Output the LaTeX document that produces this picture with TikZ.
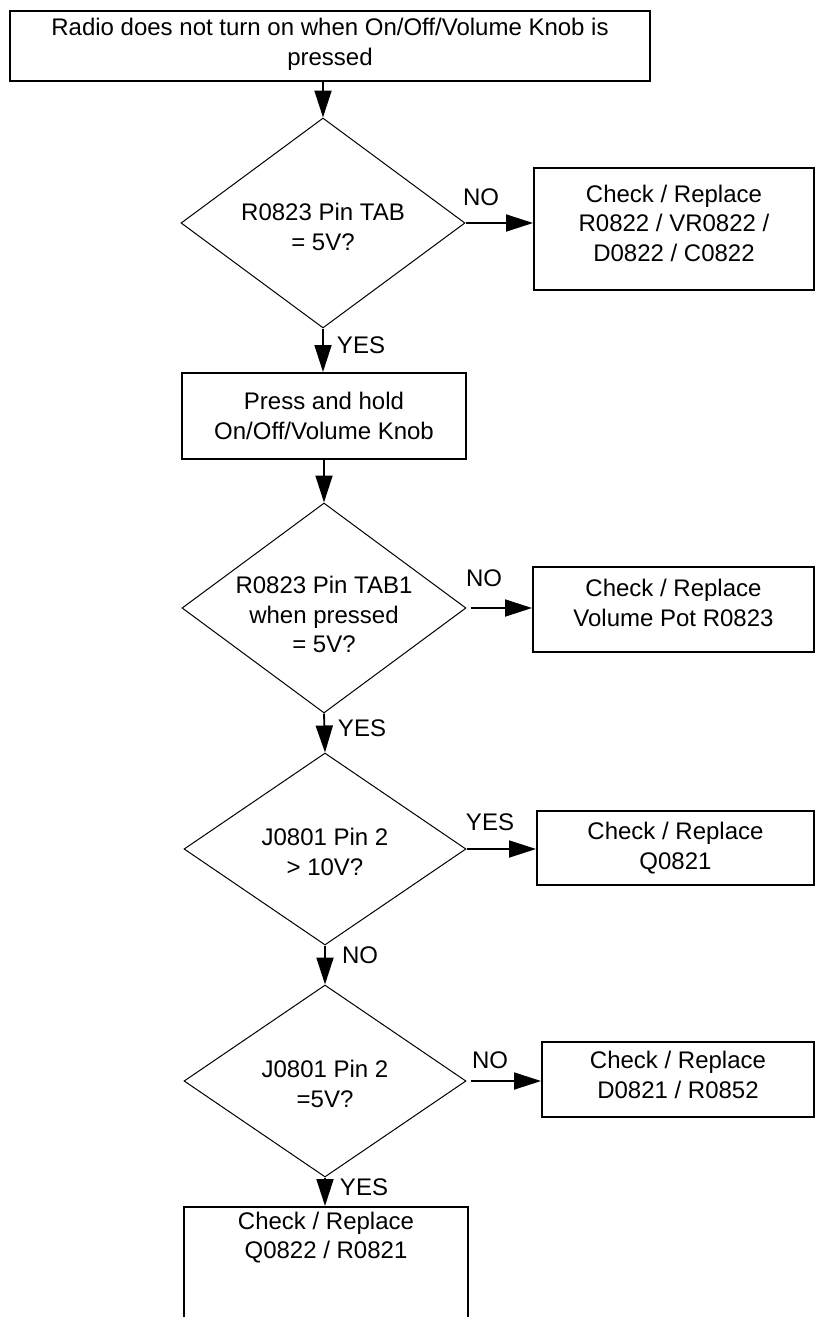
\documentclass[tikz,border=0pt]{standalone}
\usepackage{fontspec}
\setmainfont{Liberation Sans}
\usetikzlibrary{shapes.geometric,arrows.meta}
\newcommand{\topgap}[1]{\rule{0pt}{#1}}
\newcommand{\botgap}[1]{\rule[-#1]{0pt}{#1}}
\begin{document}
\begin{tikzpicture}[x=1pt,y=-1pt,
  txt/.style={font=\fontsize{24}{29.5}\selectfont, align=center},
  box/.style={txt, draw, line width=2pt, rectangle, inner sep=0pt},
  dia/.style={txt, draw, line width=1pt, diamond, inner sep=-40pt},
  arr/.style={line width=1.8pt, -{Triangle[length=27pt,width=17pt]}},
  lbl/.style={font=\fontsize{24}{29.5}\selectfont, inner sep=0pt}]
\useasboundingbox (0,0) rectangle (815,1317);

\node[box, minimum width=640pt, minimum height=70pt] (top) at (330,46)
  {Radio does not turn on when On/Off/Volume Knob is\\pressed\botgap{8pt}};

\node[dia, minimum width=284pt, minimum height=210pt] (d1) at (323,223)
  {\topgap{25pt}R0823 Pin TAB\\= 5V?};
\node[box, minimum width=280pt, minimum height=122pt] (b1) at (674,229)
  {Check / Replace\\R0822 / VR0822 /\\D0822 / C0822\botgap{12pt}};

\node[box, minimum width=284pt, minimum height=86pt] (press) at (324,416)
  {Press and hold\\On/Off/Volume Knob};

\node[dia, minimum width=284pt, minimum height=210pt] (d2) at (324,608)
  {\topgap{31pt}R0823 Pin TAB1\\when pressed\\= 5V?};
\node[box, minimum width=281pt, minimum height=85pt] (b2) at (673.5,609.5)
  {Check / Replace\\Volume Pot R0823\botgap{13pt}};

\node[dia, minimum width=282pt, minimum height=192pt] (d3) at (325,849)
  {\topgap{23pt}J0801 Pin 2\\> 10V?};
\node[box, minimum width=277pt, minimum height=74pt] (b3) at (675.5,848)
  {Check / Replace\\Q0821\botgap{4pt}};

\node[dia, minimum width=282pt, minimum height=192pt] (d4) at (325,1081)
  {\topgap{23pt}J0801 Pin 2\\=5V?};
\node[box, minimum width=272pt, minimum height=75pt] (b4) at (678,1079.5)
  {Check / Replace\\D0821 / R0852\botgap{9pt}};

\node[box, anchor=north] (b5) at (326,1206)
  {\parbox[t][124pt][t]{284pt}{\centering\vspace*{5pt}Check / Replace\\Q0822 / R0821}};

% connectors
\draw[arr] (d1.north |- top.south) -- (d1.north);
\draw[arr] (d1.east) -- (b1.west |- d1.east);
\draw[arr] (d1.south) -- (d1.south |- press.north);
\draw[arr] (d2.north |- press.south) -- (d2.north);
\draw[arr, shorten <=4pt] (d2.east) -- (b2.west |- d2.east);
\draw[arr] (d2.south) -- (d3.north);
\draw[arr] (d3.east) -- (b3.west |- d3.east);
\draw[arr] (d3.south) -- (d4.north);
\draw[arr, shorten <=4pt] (d4.east) -- (b4.west |- d4.east);
\draw[arr] (d4.south) -- (d4.south |- b5.north);

% labels
\node[lbl] (no1) at (481,197) {NO};
\node[lbl] (yes1) at (361,345) {YES};
\node[lbl] (no2) at (484,578) {NO};
\node[lbl] (yes2) at (362,728) {YES};
\node[lbl] (yes3) at (490,822) {YES};
\node[lbl] (no3) at (360,955) {NO};
\node[lbl] (no4) at (490,1060) {NO};
\node[lbl] (yes4) at (364,1187) {YES};
\end{tikzpicture}
\end{document}
